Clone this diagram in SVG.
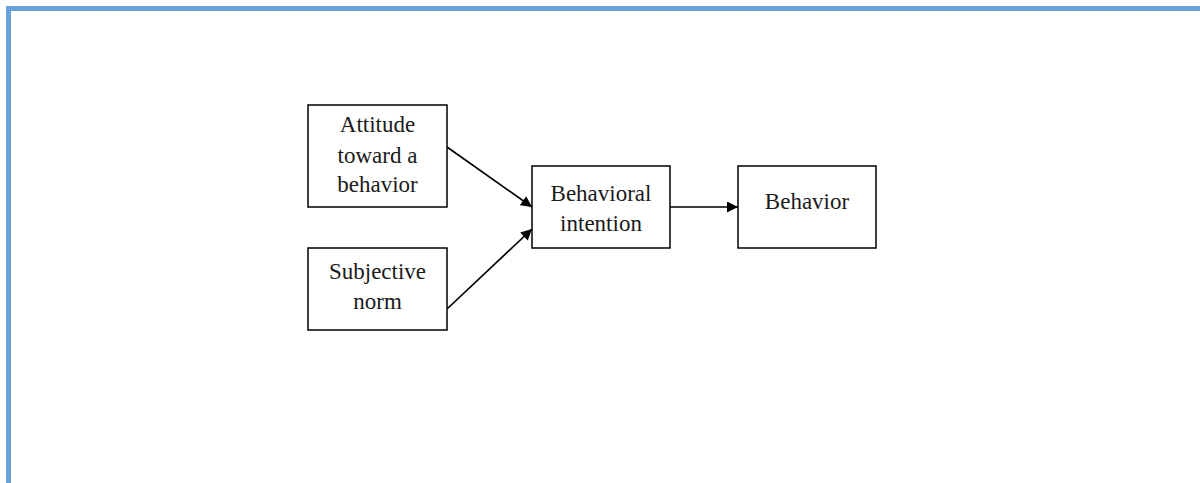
<svg xmlns="http://www.w3.org/2000/svg" width="1200" height="483" viewBox="0 0 1200 483">
  <style>
    .box { fill: #ffffff; stroke: #000000; stroke-width: 1.5; }
    .lbl { font-family: "Liberation Serif", "Times New Roman", serif; font-size: 23px; fill: #1a1a1a; text-anchor: middle; }
    .edge { stroke: #000000; stroke-width: 1.7; fill: none; marker-end: url(#arrow); }
  </style>
  <defs>
    <marker id="arrow" viewBox="0 0 10 10" refX="10" refY="5" markerWidth="12" markerHeight="11" markerUnits="userSpaceOnUse" orient="auto">
      <path d="M0,0 L10,5 L0,10 Z" fill="#000000"/>
    </marker>
  </defs>
  <rect width="1200" height="483" fill="#ffffff"/>
  <!-- frame -->
  <path d="M8.5,483 L8.5,8.5 L1200,8.5" fill="none" stroke="#65a2d8" stroke-width="5"/>

  <g id="connectors">
    <line class="edge" x1="447" y1="147" x2="532" y2="207"/>
    <line class="edge" x1="447" y1="309" x2="532" y2="229"/>
    <line class="edge" x1="670" y1="207" x2="738" y2="207"/>
  </g>

  <g id="attitude">
    <rect class="box" x="308" y="105" width="139" height="102"/>
    <text class="lbl" x="377.5" y="132">Attitude</text>
    <text class="lbl" x="377.5" y="163">toward a</text>
    <text class="lbl" x="377.5" y="192">behavior</text>
  </g>
  <g id="subjective-norm">
    <rect class="box" x="308" y="248" width="139" height="82"/>
    <text class="lbl" x="377.5" y="279">Subjective</text>
    <text class="lbl" x="377.5" y="309">norm</text>
  </g>
  <g id="behavioral-intention">
    <rect class="box" x="532" y="166" width="138" height="82"/>
    <text class="lbl" x="601" y="201">Behavioral</text>
    <text class="lbl" x="601" y="231">intention</text>
  </g>
  <g id="behavior">
    <rect class="box" x="738" y="166" width="138" height="82"/>
    <text class="lbl" x="807" y="209">Behavior</text>
  </g>
</svg>
